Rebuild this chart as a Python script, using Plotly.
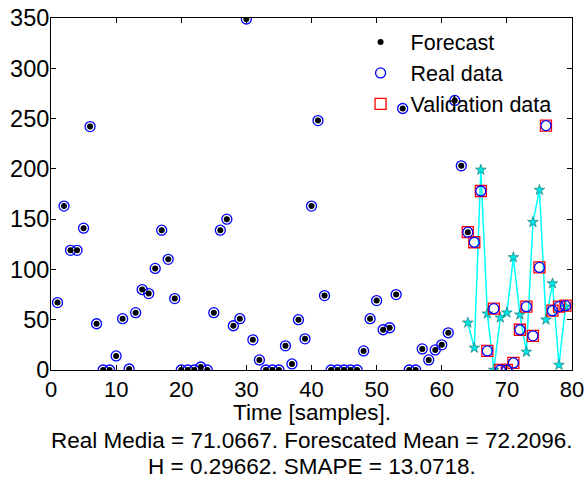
import plotly.graph_objects as go

# ---- data ----
time_real = list(range(1, 80))
real_data = [67, 163, 119, 119, 141, 242, 46, 0, 0, 14,
             51, 1, 57, 80, 76, 101, 139, 110, 71, 0,
             0, 0, 3, 0, 57, 139, 150, 44, 51, 349,
             30, 10, 0, 0, 0, 24, 6, 50, 31, 163,
             248, 74, 0, 0, 0, 0, 0, 19, 51, 69,
             40, 42, 75, 260, 0, 0, 21, 10, 20, 25,
             37, 268, 203, 137, 127, 178, 19, 61, 0, 0,
             7, 40, 63, 34, 102, 243, 59, 63, 64]

time_forecast = list(range(1, 65))
forecast = real_data[:64]

time_valid = list(range(64, 80))
validation = real_data[63:]

valid_forecast = [47, 22, 199, 56, 0, 52, 57, 112, 55, 18,
                  147, 179, 50, 86, 5, 63]

x_ticks = [0, 10, 20, 30, 40, 50, 60, 70, 80]
y_ticks = [0, 50, 100, 150, 200, 250, 300, 350]

title_lines = ["Time [samples].",
               "Real Media = 71.0667. Forescated Mean = 72.2096.",
               "H = 0.29662. SMAPE = 13.0718."]

FONT = "Liberation Sans, Arial, sans-serif"

fig = go.Figure()

fig.add_trace(go.Scatter(
    x=time_valid, y=valid_forecast, mode="lines+markers",
    line=dict(color="#00FFFF", width=1.5),
    marker=dict(symbol="star", size=8, color="#00E5E5",
                line=dict(color="#006666", width=0.6)),
    showlegend=False, hoverinfo="skip"))

fig.add_trace(go.Scatter(
    x=time_valid, y=validation, mode="markers", name="Validation data",
    marker=dict(symbol="square-open", size=11, color="#FF0000",
                line=dict(width=1.3))))

fig.add_trace(go.Scatter(
    x=time_real, y=real_data, mode="markers", name="Real data",
    marker=dict(symbol="circle-open", size=10, color="#0000FF",
                line=dict(width=1.3))))

fig.add_trace(go.Scatter(
    x=time_forecast, y=forecast, mode="markers", name="Forecast",
    marker=dict(symbol="circle", size=6, color="#000000")))

axis_common = dict(
    showgrid=False, zeroline=False, showline=True, linecolor="black",
    linewidth=1, mirror="ticks", ticks="inside", ticklen=5,
    tickcolor="black", automargin=False, ticklabeloverflow="allow")

fig.update_xaxes(range=[0, 80], tickvals=x_ticks,
                 tickfont=dict(family=FONT, size=22, color="black"),
                 **axis_common)
fig.update_yaxes(range=[0, 350], tickvals=y_ticks, ticklabelstandoff=-4,
                 tickfont=dict(family=FONT, size=23.5, color="black"),
                 **axis_common)

# labels below the axis
label_y = [-0.1195, -0.199, -0.273]
for txt, yy in zip(title_lines, label_y):
    fig.add_annotation(text=txt, x=0.5, y=yy, xref="paper", yref="paper",
                       xanchor="center", yanchor="middle", showarrow=False,
                       font=dict(family=FONT, size=22.5, color="black"))

fig.update_layout(
    width=585, height=479,
    margin=dict(l=51, r=13, t=18, b=109),
    plot_bgcolor="white", paper_bgcolor="white",
    font=dict(family=FONT, color="black"),
    legend=dict(x=0.575, y=0.99, xanchor="left", yanchor="top",
                bgcolor="rgba(0,0,0,0)", borderwidth=0,
                traceorder="reversed", itemwidth=50,
                font=dict(family=FONT, size=21.5, color="black")),
)

# remove the default page margin so the 585x479 figure fills the window
fig.write_html("out.html",
               config={"displayModeBar": False},
               post_script="document.body.style.margin='0px';"
                           "document.body.style.overflow='hidden';")
